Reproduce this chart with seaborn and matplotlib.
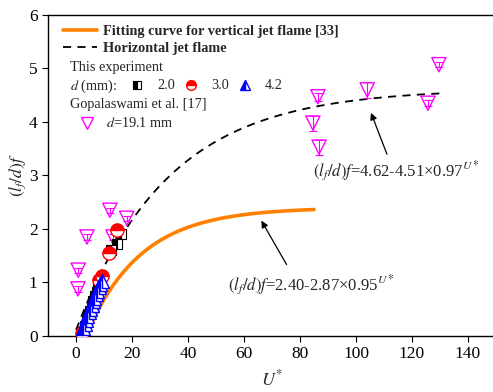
import numpy as np
import pandas as pd
import matplotlib
matplotlib.use("Agg")
import matplotlib.pyplot as plt
import seaborn as sns

sns.set_style("ticks")
plt.rcParams["font.family"] = ["Liberation Serif", "DejaVu Serif"]
plt.rcParams["mathtext.fontset"] = "stix"
plt.rcParams["font.size"] = 10

# Fitted correlations: (l_f/d) f = a - b * c**U*
vert_a, vert_b, vert_c = 2.40, 2.87, 0.95
horiz_a, horiz_b, horiz_c = 4.62, 4.51, 0.97
vert_range = (3.5, 85.0)
horiz_range = (0.0, 130.0)

# This experiment, d = 2.0 mm
sq_u = [2.5, 3.2, 3.8, 4.4, 5.0, 5.6, 6.2, 6.8, 7.4, 8.0, 12.5, 14.6, 16.0]
sq_y = [0.08, 0.18, 0.28, 0.38, 0.47, 0.56, 0.65, 0.74, 0.82, 0.9, 1.6, 1.72, 1.9]
# This experiment, d = 3.0 mm
ci_u = [2.0, 8.2, 9.2, 11.8, 14.6]
ci_y = [0.06, 1.05, 1.12, 1.55, 1.98]
# This experiment, d = 4.2 mm
tr_u = [2.6, 3.1, 3.6, 4.1, 4.6, 5.1, 5.6, 6.1, 6.6, 7.1, 7.6, 8.1, 8.6, 9.2]
tr_y = [0.14, 0.22, 0.3, 0.37, 0.44, 0.51, 0.58, 0.65, 0.71, 0.78, 0.85, 0.91, 0.97, 1.02]
# Gopalaswami et al. [17], d = 19.1 mm
gop_u = [0.7, 0.8, 3.9, 12.1, 13.2, 18.1, 84.6, 86.4, 86.8, 104.0, 125.7, 129.6]
gop_y = [0.88, 1.23, 1.85, 2.35, 1.85, 2.2, 3.98, 4.47, 3.53, 4.6, 4.35, 5.07]
gop_err = [0.05, 0.05, 0.05, 0.05, 0.06, 0.05, 0.14, 0.08, 0.14, 0.15, 0.06, 0.05]

x_ticks = [0, 20, 40, 60, 80, 100, 120, 140]
y_ticks = [0, 1, 2, 3, 4, 5, 6]

orange = "#FF8000"
magenta = "#FF00FF"

fig = plt.figure(figsize=(4.93, 3.92), dpi=100)
ax = fig.add_axes([0.0974, 0.1429, 0.9087, 0.8189])

u_v = np.linspace(*vert_range, 200)
u_h = np.linspace(*horiz_range, 300)
curves_v = pd.DataFrame({"u": u_v, "y": vert_a - vert_b * vert_c ** u_v})
curves_h = pd.DataFrame({"u": u_h, "y": horiz_a - horiz_b * horiz_c ** u_h})

sns.lineplot(data=curves_v, x="u", y="y", ax=ax, color=orange, lw=2.6,
             estimator=None, sort=False, label="Fitting curve for vertical jet flame [33]", zorder=2)
sns.lineplot(data=curves_h, x="u", y="y", ax=ax, color="black", lw=1.3,
             dashes=False, linestyle=(0, (4.5, 3.5)), estimator=None, sort=False,
             label="Horizontal jet flame", zorder=2)

# Gopalaswami data with error bars
ax.errorbar(gop_u, gop_y, yerr=gop_err, fmt="none", ecolor=magenta, elinewidth=0.8,
            capsize=3, capthick=0.8, zorder=3)
sns.scatterplot(x=gop_u, y=gop_y, ax=ax, marker="v", s=105, facecolor="none",
                edgecolor=magenta, linewidth=1.0, zorder=4, legend=False)

# Half-filled markers of this experiment
sns.lineplot(x=sq_u, y=sq_y, ax=ax, estimator=None, sort=False, linestyle="",
             marker="s", markersize=7, color="black", markerfacecolor="black",
             markerfacecoloralt="white", fillstyle="left", markeredgecolor="black",
             markeredgewidth=0.8, zorder=5, legend=False)
sns.lineplot(x=ci_u, y=ci_y, ax=ax, estimator=None, sort=False, linestyle="",
             marker="o", markersize=9.5, color="red", markerfacecolor="red",
             markerfacecoloralt="white", fillstyle="top", markeredgecolor="red",
             markeredgewidth=1.0, zorder=5, legend=False)
sns.lineplot(x=tr_u, y=tr_y, ax=ax, estimator=None, sort=False, linestyle="",
             marker="^", markersize=9.5, color="blue", markerfacecolor="blue",
             markerfacecoloralt="white", fillstyle="left", markeredgecolor="blue",
             markeredgewidth=1.0, zorder=6, legend=False)

ax.set_xlim(-10, 150)
ax.set_ylim(0, 6)
ax.set_xticks(x_ticks)
ax.set_yticks(y_ticks)
ax.tick_params(direction="out", length=4, width=0.8, labelsize=12.5, colors="black")
for s in ax.spines.values():
    s.set_linewidth(1.0)
    s.set_color("black")
ax.set_xlabel(r"$U^{*}$", fontsize=13)
ax.set_ylabel(r"$(l_f/d)f$", fontsize=12.5)
ax.xaxis.set_label_coords(0.5, -0.105)
ax.yaxis.set_label_coords(-0.045, 0.5)

leg = ax.legend(loc="upper left", bbox_to_anchor=(0.01, 1.0), frameon=False,
                handlelength=2.4, handletextpad=0.4, borderaxespad=0.3,
                labelspacing=0.25, prop={"weight": "bold", "size": 10.3})

tr = ax.transAxes
fs = 10.3
ax.text(0.049, 0.835, "This experiment", transform=tr, fontsize=fs, va="center")
ax.text(0.049, 0.779, r"$d$ (mm):", transform=tr, fontsize=fs, va="center")
ax.plot([0.199], [0.781], transform=tr, marker="s", markersize=6, color="black",
        markerfacecolor="black", markerfacecoloralt="white", fillstyle="left",
        markeredgewidth=0.8, linestyle="")
ax.text(0.243, 0.779, "2.0", transform=tr, fontsize=fs, va="center")
ax.plot([0.319], [0.781], transform=tr, marker="o", markersize=7, color="red",
        markerfacecolor="red", markerfacecoloralt="white", fillstyle="top",
        markeredgewidth=1.0, linestyle="")
ax.text(0.364, 0.779, "3.0", transform=tr, fontsize=fs, va="center")
ax.plot([0.44], [0.783], transform=tr, marker="^", markersize=7, color="blue",
        markerfacecolor="blue", markerfacecoloralt="white", fillstyle="left",
        markeredgewidth=1.0, linestyle="")
ax.text(0.484, 0.779, "4.2", transform=tr, fontsize=fs, va="center")
ax.text(0.049, 0.72, "Gopalaswami et al. [17]", transform=tr, fontsize=fs, va="center")
ax.plot([0.087], [0.664], transform=tr, marker="v", markersize=8, color=magenta,
        markerfacecolor="none", markeredgewidth=1.0, linestyle="")
ax.text(0.129, 0.664, r"$d$=19.1 mm", transform=tr, fontsize=fs, va="center")

# Annotations of the two fitted correlations
ax.annotate("", xy=(105, 4.22), xytext=(111.4, 3.35),
            arrowprops=dict(arrowstyle="-|>", color="black", lw=0.9, mutation_scale=10))
ax.text(84.5, 3.08, r"$(l_f/d)f$=4.62-4.51×0.97$^{U*}$", fontsize=12, va="center")
ax.annotate("", xy=(65.7, 2.2), xytext=(75.7, 1.29),
            arrowprops=dict(arrowstyle="-|>", color="black", lw=0.9, mutation_scale=10))
ax.text(54.3, 0.95, r"$(l_f/d)f$=2.40-2.87×0.95$^{U*}$", fontsize=12, va="center")

fig.savefig("out.png", dpi=100)
